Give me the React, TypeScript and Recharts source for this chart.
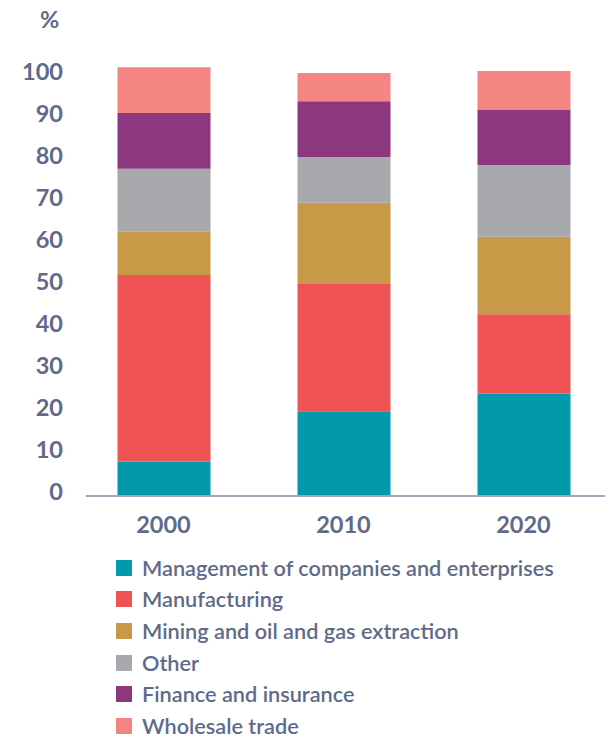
import React from 'react';
import { BarChart, Bar, XAxis, YAxis } from 'recharts';

if (typeof document !== 'undefined') {
  document.body.style.margin = '0';
}

// Categories and series (share of total, %)
const years = ['2000', '2010', '2020'];
const management = [8.2, 20.2, 24.4];
const manufacturing = [44.4, 30.3, 18.9];
const mining = [10.3, 19.3, 18.4];
const other = [15.0, 10.9, 17.1];
const finance = [13.3, 13.3, 13.1];
const wholesale = [10.9, 6.7, 9.3];
const yTicks = [0, 10, 20, 30, 40, 50, 60, 70, 80, 90, 100];

const series = [
  { key: 'management', name: 'Management of companies and enterprises', color: '#0399ad', values: management },
  { key: 'manufacturing', name: 'Manufacturing', color: '#f05354', values: manufacturing },
  { key: 'mining', name: 'Mining and oil and gas extraction', color: '#c89a48', values: mining },
  { key: 'other', name: 'Other', color: '#a8a9ad', values: other },
  { key: 'finance', name: 'Finance and insurance', color: '#8b3880', values: finance },
  { key: 'wholesale', name: 'Wholesale trade', color: '#f48583', values: wholesale },
];

const data = years.map((year, i) => {
  const row: Record<string, string | number> = { year };
  series.forEach(s => { row[s.key] = s.values[i]; });
  return row;
});

const TEXT = '#5f6a8a';
const FONT = 'Lato, "Noto Sans", sans-serif';

function YTick({ y, payload }: any) {
  return (
    <text x={63} y={y - 5} textAnchor="end" dominantBaseline="central"
      fill={TEXT} fontSize={23.5} fontWeight={700} fontFamily={FONT}>
      {payload.value}
    </text>
  );
}

function XTick({ x, y, payload }: any) {
  return (
    <text x={x} y={y + 19.5} textAnchor="middle" dominantBaseline="central"
      fill={TEXT} fontSize={23.5} fontWeight={700} fontFamily={FONT}>
      {payload.value}
    </text>
  );
}

export default function App() {
  return (
    <div style={{ position: 'relative', width: 605, height: 740, background: '#fff', fontFamily: FONT }}>
      <div style={{ position: 'absolute', left: 40, top: 5, color: TEXT, fontSize: 23.5, fontWeight: 700 }}>%</div>
      <BarChart width={605} height={545} data={data} margin={{ top: 34, right: 0, bottom: 0, left: 0 }}>
        <XAxis dataKey="year" tick={<XTick />} tickLine={false}
          axisLine={{ stroke: '#a3a6b9', strokeWidth: 2 }}
          padding={{ left: -12.5, right: -8.5 }} height={49} />
        <YAxis width={86} domain={[0, 110]} ticks={yTicks} tick={<YTick />}
          tickLine={false} axisLine={false} interval={0} />
        {series.map(s => (
          <Bar key={s.key} dataKey={s.key} name={s.name} stackId="a" fill={s.color}
            barSize={93} isAnimationActive={false} />
        ))}
      </BarChart>
      <div style={{ position: 'absolute', left: 116, top: 552 }}>
        {series.map(s => (
          <div key={s.key} style={{ display: 'flex', alignItems: 'center', height: 31.6 }}>
            <span style={{ width: 16, height: 16, background: s.color, display: 'inline-block', marginRight: 10 }} />
            <span style={{ color: TEXT, fontSize: 21.7, lineHeight: '22px', fontWeight: 600, whiteSpace: 'nowrap' }}>{s.name}</span>
          </div>
        ))}
      </div>
    </div>
  );
}
